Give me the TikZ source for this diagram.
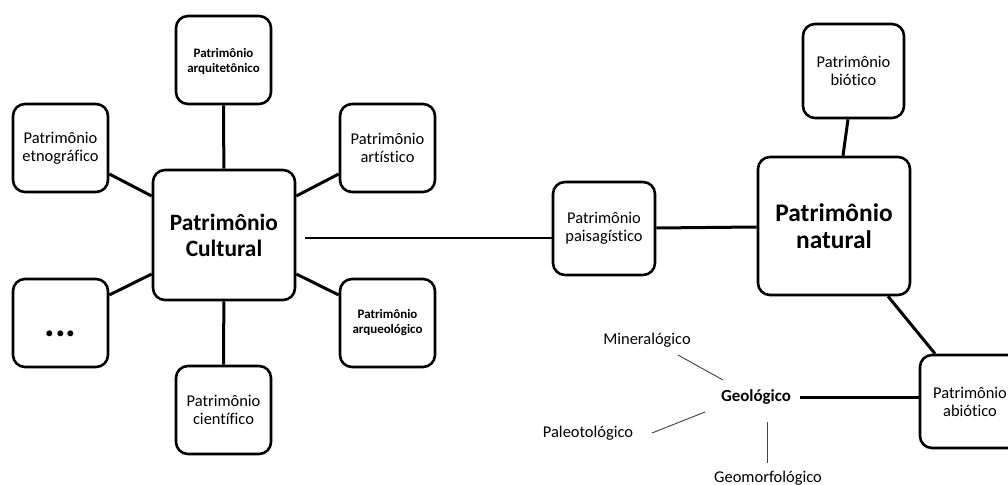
\documentclass[tikz,border=0pt]{standalone}
\usepackage{fontspec}
\setmainfont{Carlito}[Ligatures={NoCommon}]
\begin{document}
\begin{tikzpicture}[x=1bp,y=-1bp,
  box/.style={draw, line width=2.6bp, rounded corners=12bp, align=center, inner sep=0pt},
  sbox/.style={box, minimum width=95bp, minimum height=88bp},
  con/.style={line width=3bp},
  thin/.style={line width=0.9bp, draw=black!75},
  f13/.style={font=\fontsize{13}{15}\selectfont\bfseries},
  f17/.style={font=\fontsize{16.5}{18}\selectfont},
  lab/.style={inner sep=0pt}
]
\clip (0,0) rectangle (1008,485);
\fill[white] (0,0) rectangle (1008,485);
% left cluster
\node[box, minimum width=142bp, minimum height=130bp, font=\fontsize{23.5}{26}\selectfont\bfseries] (cult) at (224,235) {Patrimônio\\Cultural};
\node[sbox, f13, text depth=0pt] (arqt) at (223.5,60) {Patrimônio\\arquitetônico};
\node[sbox, f17] (etno) at (60.5,148) {Patrimônio\\etnográfico};
\node[sbox, f17] (arts) at (387.5,148) {Patrimônio\\artístico};
\node[sbox] (dots) at (60.5,323) {};
\node[lab, anchor=base, font=\fontsize{40}{40}\selectfont\bfseries] (dtxt) at (60.5,337) {...};
\node[sbox, f13] (arqe) at (387.5,323) {Patrimônio\\arqueológico};
\node[sbox, f17] (cien) at (223.5,410) {Patrimônio\\científico};
\draw[con] (cult) -- (arqt);
\draw[con] (cult) -- (cien);
\draw[con] (cult.west |- 0,196) -- (etno.east |- 0,174);
\draw[con] (cult.east |- 0,196) -- (arts.west |- 0,174);
\draw[con] (cult.west |- 0,274) -- (dots.east |- 0,295);
\draw[con] (cult.east |- 0,274) -- (arqe.west |- 0,295);
% right cluster
\node[box, minimum width=102bp, minimum height=93bp, f17] (pais) at (604,228.5) {Patrimônio\\paisagístico};
\node[box, minimum width=152bp, minimum height=138bp, font=\fontsize{25.5}{27}\selectfont\bfseries] (nat) at (834,226) {Patrimônio\\natural};
\node[box, minimum width=101bp, minimum height=94bp, f17] (bio) at (853.5,71) {Patrimônio\\biótico};
\node[box, minimum width=100bp, minimum height=93bp, f17] (abio) at (970,401.5) {Patrimônio\\abiótico};
\draw[line width=2bp, shorten <=9bp] (cult.east |- 0,238) -- (pais.west |- 0,238);
\draw[con] (pais.east |- 0,228) -- (nat.west |- 0,227);
\draw[con] (bio.south -| 848,0) -- (nat.north -| 843,0);
\draw[con] (nat.south -| 888,0) -- (abio.north -| 935,0);
% geological
\node[lab, font=\fontsize{17}{18}\selectfont\bfseries] (geo) at (756,397) {Geológico};
\node[lab, f17] (mine) at (647,340) {Mineralógico};
\node[lab, f17] (pale) at (588,433) {Paleotológico};
\node[lab, f17] (geom) at (768,478) {Geomorfológico};
\draw[con, shorten <=9bp] (geo.east) -- (abio.west |- geo.east);
\coordinate (m1) at (678,355); \coordinate (m2) at (723,380);
\coordinate (p1) at (652,433); \coordinate (p2) at (705,412);
\coordinate (g1) at (767,422); \coordinate (g2) at (767,463);
\draw[thin] (m1) -- (m2);
\draw[thin] (p1) -- (p2);
\draw[thin] (g1) -- (g2);
\end{tikzpicture}
\end{document}
